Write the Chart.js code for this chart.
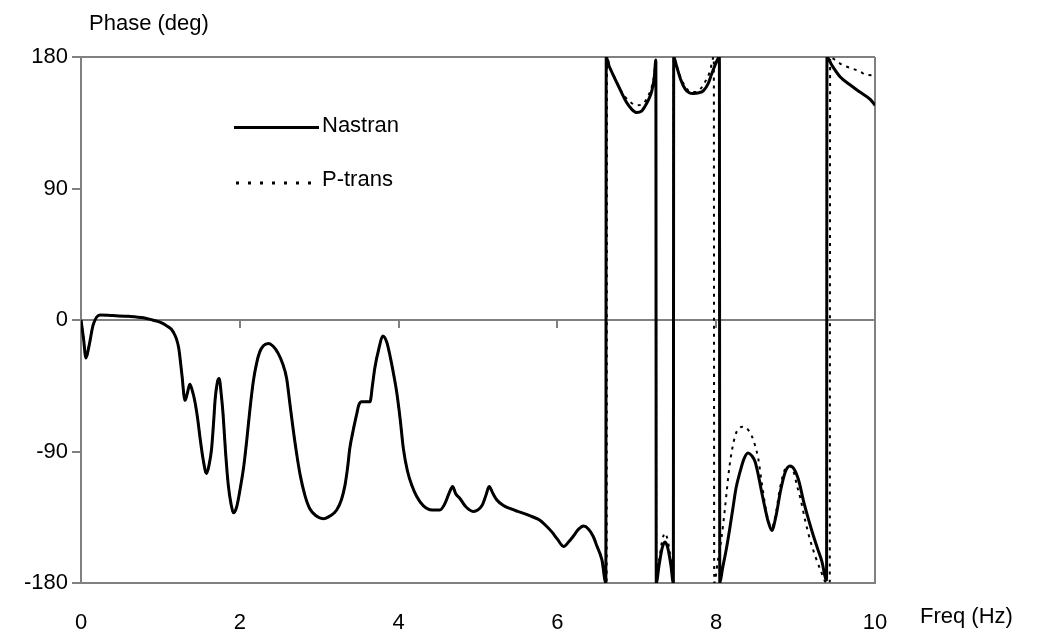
<!DOCTYPE html>
<html>
<head>
<meta charset="utf-8">
<script src="https://cdn.jsdelivr.net/npm/chart.js@4.4.1/dist/chart.umd.min.js"></script>
<style>
  html, body { margin: 0; padding: 0; background: #fff; }
  #wrap { width: 1046px; height: 637px; position: relative; }
</style>
</head>
<body>
<div id="wrap"><canvas id="phaseChart"></canvas></div>
<script>
// values (freq in Hz, phase in deg)
const freqNastran = [
  0, 0.03, 0.063, 0.10, 0.155, 0.24, 0.4, 0.6, 0.785, 0.9, 0.995, 1.08, 1.16, 1.23, 1.27, 1.31,
  1.34, 1.37, 1.40, 1.435, 1.47, 1.50, 1.54, 1.58, 1.61, 1.645, 1.67, 1.69, 1.72, 1.74, 1.765, 1.79,
  1.82, 1.855, 1.89, 1.92, 1.96, 2.0, 2.05, 2.09, 2.13, 2.17, 2.21, 2.25, 2.30, 2.36, 2.42, 2.485,
  2.54, 2.59, 2.63, 2.675, 2.72, 2.76, 2.82, 2.88, 2.96, 3.05, 3.14, 3.22, 3.28, 3.325, 3.36, 3.385,
  3.43, 3.47, 3.50, 3.535, 3.58, 3.64, 3.67, 3.70, 3.75, 3.80, 3.85, 3.89, 3.93, 3.975, 4.02, 4.06,
  4.11, 4.165, 4.23, 4.31, 4.42, 4.52, 4.58, 4.64, 4.68, 4.72, 4.77, 4.85, 4.94, 5.05, 5.10, 5.14,
  5.19, 5.235, 5.32, 5.40, 5.50, 5.61, 5.70, 5.78, 5.86, 5.93, 6.00, 6.08, 6.14, 6.20, 6.27, 6.33,
  6.39, 6.45, 6.50, 6.56, 6.61, 6.615, 6.65, 6.70, 6.77, 6.87, 6.94, 7.00, 7.06, 7.10, 7.15, 7.19,
  7.22, 7.24, 7.245, 7.28, 7.32, 7.355, 7.39, 7.43, 7.46, 7.465, 7.50, 7.55, 7.61, 7.66, 7.71, 7.78,
  7.84, 7.90, 7.94, 7.99, 8.04, 8.045, 8.08, 8.13, 8.17, 8.21, 8.25, 8.30, 8.35, 8.40, 8.45, 8.49,
  8.53, 8.57, 8.62, 8.655, 8.70, 8.75, 8.81, 8.87, 8.93, 8.98, 9.04, 9.10, 9.16, 9.22, 9.28, 9.33,
  9.39, 9.395, 9.455, 9.56, 9.685, 9.81, 9.94, 10
];
const phaseNastran = [
  0, -12, -26, -18, -3, 3.5, 3, 2.5, 1.5, 0, -1.5, -4, -8, -19, -37, -55,
  -50, -44, -48, -56, -68, -81, -96, -105, -100, -88, -70, -54, -42, -40, -50, -65,
  -90, -113, -126, -132, -128, -117, -100, -81, -60, -42, -30, -22, -17.5, -16, -18, -23,
  -30, -40, -57, -76, -93, -106, -120, -129, -134, -136, -134, -130, -123, -113, -100, -88,
  -75, -65, -58, -56, -56, -56, -45, -33, -20, -11, -15, -24, -35, -49, -68, -88,
  -103, -113, -121, -127, -130, -130, -126, -118, -114, -119, -122, -128, -131, -127, -120, -114,
  -119, -123, -127, -129, -131, -133, -135, -137, -141, -145, -150, -155, -152, -148, -143, -141,
  -143, -148, -155, -164, -180, 180, 174, 168, 160, 149, 144, 142, 143, 146, 151, 157,
  166, 178, -180, -168, -156, -152, -156, -168, -180, 180, 174, 165, 158, 155.5, 155, 155.5,
  157, 162, 168, 175, 180, -180, -170, -156, -143, -129, -115, -104, -95, -91, -93, -97,
  -106, -117, -130, -138, -144, -135, -117, -104, -100, -102, -110, -124, -136, -147, -157, -165,
  -178, 180, 174.5, 166.5, 161, 156, 151, 147
];

const freqPtrans = [
  0, 0.03, 0.063, 0.10, 0.155, 0.24, 0.4, 0.6, 0.785, 0.9, 0.995, 1.08, 1.16, 1.23, 1.27, 1.31,
  1.34, 1.37, 1.40, 1.435, 1.47, 1.50, 1.54, 1.58, 1.61, 1.645, 1.67, 1.69, 1.72, 1.74, 1.765, 1.79,
  1.82, 1.855, 1.89, 1.92, 1.96, 2.0, 2.05, 2.09, 2.13, 2.17, 2.21, 2.25, 2.30, 2.36, 2.42, 2.485,
  2.54, 2.59, 2.63, 2.675, 2.72, 2.76, 2.82, 2.88, 2.96, 3.05, 3.14, 3.22, 3.28, 3.325, 3.36, 3.385,
  3.43, 3.47, 3.50, 3.535, 3.58, 3.64, 3.67, 3.70, 3.75, 3.80, 3.85, 3.89, 3.93, 3.975, 4.02, 4.06,
  4.11, 4.165, 4.23, 4.31, 4.42, 4.52, 4.58, 4.64, 4.68, 4.72, 4.77, 4.85, 4.94, 5.05, 5.10, 5.14,
  5.19, 5.235, 5.32, 5.40, 5.50, 5.61, 5.70, 5.78, 5.86, 5.93, 6.00, 6.08, 6.14, 6.20, 6.27, 6.33,
  6.39, 6.45, 6.50, 6.56, 6.60, 6.62, 6.625, 6.66, 6.72, 6.80, 6.90, 7.00, 7.08, 7.14, 7.19, 7.22,
  7.24, 7.245, 7.28, 7.32, 7.355, 7.39, 7.43, 7.46, 7.465, 7.50, 7.56, 7.62, 7.68, 7.74, 7.80, 7.86,
  7.92, 7.97, 7.975, 8.02, 8.07, 8.11, 8.17, 8.24, 8.29, 8.34, 8.40, 8.445, 8.49, 8.53, 8.57, 8.62,
  8.66, 8.70, 8.75, 8.80, 8.86, 8.92, 8.97, 9.02, 9.06, 9.12, 9.18, 9.25, 9.32, 9.38, 9.43, 9.435,
  9.47, 9.56, 9.64, 9.72, 9.81, 9.895, 10
];
const phasePtrans = [
  0, -12, -26, -18, -3, 3.5, 3, 2.5, 1.5, 0, -1.5, -4, -8, -19, -37, -55,
  -50, -44, -48, -56, -68, -81, -96, -105, -100, -88, -70, -54, -42, -40, -50, -65,
  -90, -113, -126, -132, -128, -117, -100, -81, -60, -42, -30, -22, -17.5, -16, -18, -23,
  -30, -40, -57, -76, -93, -106, -120, -129, -134, -136, -134, -130, -123, -113, -100, -88,
  -75, -65, -58, -56, -56, -56, -45, -33, -20, -11, -15, -24, -35, -49, -68, -88,
  -103, -113, -121, -127, -130, -130, -126, -118, -114, -119, -122, -128, -131, -127, -120, -114,
  -119, -123, -127, -129, -131, -133, -135, -137, -141, -145, -150, -155, -152, -148, -143, -141,
  -143, -148, -155, -164, -172, -180, 180, 173, 166, 157, 150, 147, 148, 153, 160, 168,
  179, -180, -165, -151, -146, -151, -165, -180, 180, 174, 165, 159, 156, 156, 158, 163,
  170, 180, -180, -165, -148, -129, -99, -79, -74, -73, -75, -79, -86, -95, -110, -128,
  -138, -142, -133, -116, -103, -100, -103, -114, -122, -137, -150, -162, -172, -179.5, -180, 180,
  179, 175.5, 173.5, 172, 170, 167.7, 167.5
];

const xTicks = [0, 2, 4, 6, 8, 10];
const yTicks = [-180, -90, 0, 90, 180];
const seriesNames = ['Nastran', 'P-trans'];

const FONT = "'Liberation Sans', Arial, sans-serif";
const AXIS_GRAY = '#808080';

function toPoints(xs, ys) {
  return xs.map((x, i) => ({ x: x, y: ys[i] }));
}

// tick marks on the 0-deg line, legend box and axis titles
const decorPlugin = {
  id: 'decor',
  beforeDatasetsDraw(chart) {
    const ctx = chart.ctx;
    const x = chart.scales.x, y = chart.scales.y;
    const y0 = y.getPixelForValue(0);
    ctx.save();
    ctx.strokeStyle = AXIS_GRAY;
    ctx.lineWidth = 2;
    xTicks.slice(1, -1).forEach(v => {
      const px = Math.round(x.getPixelForValue(v));
      ctx.beginPath();
      ctx.moveTo(px, y0);
      ctx.lineTo(px, y0 + 8);
      ctx.stroke();
    });
    ctx.restore();
  },
  afterDraw(chart) {
    const ctx = chart.ctx;
    ctx.save();
    ctx.fillStyle = '#000';
    ctx.font = '22px ' + FONT;
    ctx.textBaseline = 'middle';
    ctx.textAlign = 'left';
    ctx.fillText('Phase (deg)', 89, 24);
    ctx.fillText('Freq (Hz)', 920, 617);

    // legend
    const ds = chart.data.datasets;
    ctx.strokeStyle = ds[0].borderColor;
    ctx.lineWidth = ds[0].borderWidth;
    ctx.beginPath();
    ctx.moveTo(234, 127.5);
    ctx.lineTo(319, 127.5);
    ctx.stroke();
    ctx.fillText(ds[0].label, 322, 126);

    ctx.lineWidth = 3;
    ctx.setLineDash([3, 9]);
    ctx.beginPath();
    ctx.moveTo(236, 183);
    ctx.lineTo(312, 183);
    ctx.stroke();
    ctx.setLineDash([]);
    ctx.fillText(ds[1].label, 322, 180);
    ctx.restore();
  }
};

new Chart(document.getElementById('phaseChart'), {
  type: 'line',
  data: {
    datasets: [
      {
        label: seriesNames[0],
        data: toPoints(freqNastran, phaseNastran),
        borderColor: '#000',
        borderWidth: 3,
        pointRadius: 0,
        cubicInterpolationMode: 'monotone',
        fill: false
      },
      {
        label: seriesNames[1],
        data: toPoints(freqPtrans, phasePtrans),
        borderColor: '#000',
        borderWidth: 2,
        borderDash: [3, 5],
        pointRadius: 0,
        cubicInterpolationMode: 'monotone',
        fill: false
      }
    ]
  },
  options: {
    responsive: true,
    maintainAspectRatio: false,
    animation: false,
    devicePixelRatio: 1,
    layout: { padding: { left: 0, top: 57, right: 171, bottom: 0 } },
    plugins: {
      legend: { display: false },
      tooltip: { enabled: false }
    },
    scales: {
      x: {
        type: 'linear',
        min: 0,
        max: 10,
        afterBuildTicks: s => { s.ticks = xTicks.map(v => ({ value: v })); },
        afterFit: s => { s.height = 54; },
        ticks: { color: '#000', font: { family: FONT, size: 22 }, padding: 27, maxRotation: 0 },
        grid: {
          drawTicks: false,
          lineWidth: 2,
          color: c => (c.tick && c.tick.value === 10 ? AXIS_GRAY : 'rgba(0,0,0,0)')
        },
        border: { color: AXIS_GRAY, width: 2 }
      },
      y: {
        min: -180,
        max: 180,
        afterBuildTicks: s => { s.ticks = yTicks.map(v => ({ value: v })); },
        afterFit: s => { s.width = 81; },
        ticks: { color: '#000', font: { family: FONT, size: 22 }, padding: 4 },
        grid: {
          lineWidth: 2,
          tickLength: 9,
          tickColor: AXIS_GRAY,
          color: c => (c.tick && (c.tick.value === 0 || c.tick.value === 180) ? AXIS_GRAY : 'rgba(0,0,0,0)')
        },
        border: { color: AXIS_GRAY, width: 2 }
      }
    }
  },
  plugins: [decorPlugin]
});
</script>
</body>
</html>
